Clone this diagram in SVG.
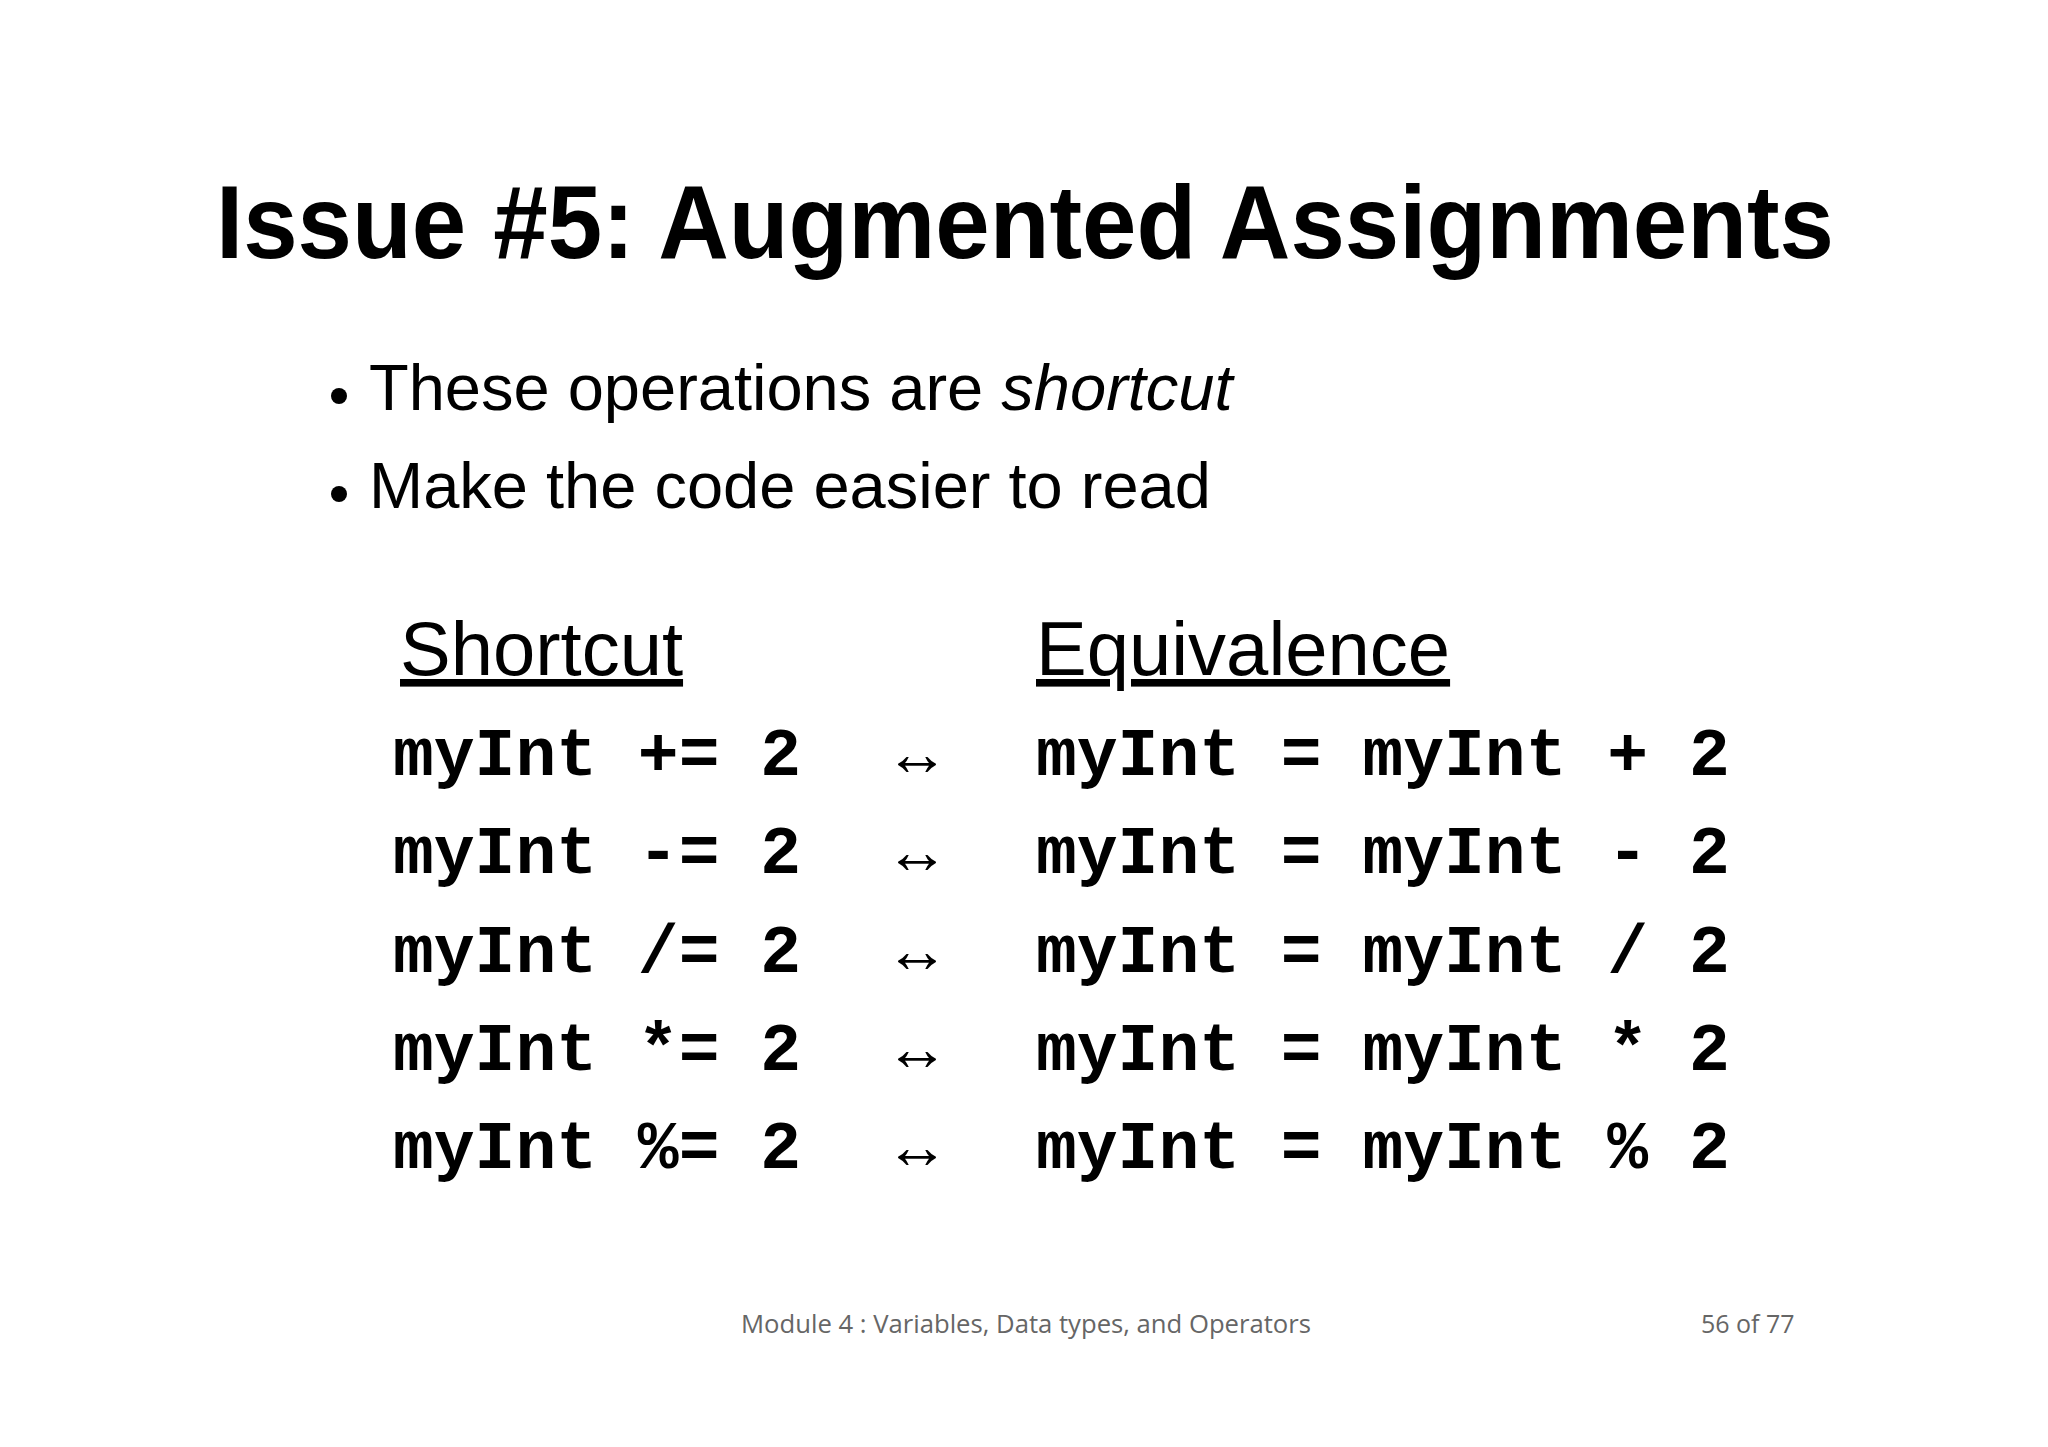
<svg xmlns="http://www.w3.org/2000/svg" width="2048" height="1447" viewBox="0 0 2048 1447">
<style>
.t{font-family:"Liberation Sans",Arial,sans-serif;fill:#000}
.c{font-family:"Liberation Mono","Courier New",monospace;font-weight:bold;font-size:68px;fill:#000}
.a{font-family:"Liberation Serif","DejaVu Serif",serif;font-size:64px;fill:#000}
.f{font-family:"Open Sans","Liberation Sans",sans-serif;font-size:25px;fill:#666}
</style>
<rect width="2048" height="1447" fill="#fff"/>
<g id="title"><text class="t" x="216" y="258" font-size="104" font-weight="bold" textLength="1618" lengthAdjust="spacingAndGlyphs">Issue #5: Augmented Assignments</text></g>
<g id="bullets">
<circle cx="339" cy="396" r="8"/>
<text class="t" x="369" y="410" font-size="65">These operations are <tspan font-style="italic">shortcut</tspan></text>
<circle cx="339" cy="494" r="8"/>
<text class="t" x="369" y="508" font-size="65">Make the code easier to read</text>
</g>
<g id="headings">
<text class="t" x="400" y="675" font-size="76" text-decoration="underline">Shortcut</text>
<text class="t" x="1036" y="675" font-size="76" text-decoration="underline">Equivalence</text>
</g>
<g id="rows">
<text class="c" x="393" y="775">myInt += 2</text><text class="a" x="885" y="775">↔</text><text class="c" x="1036" y="775">myInt = myInt + 2</text>
<text class="c" x="393" y="873">myInt -= 2</text><text class="a" x="885" y="873">↔</text><text class="c" x="1036" y="873">myInt = myInt - 2</text>
<text class="c" x="393" y="972">myInt /= 2</text><text class="a" x="885" y="972">↔</text><text class="c" x="1036" y="972">myInt = myInt / 2</text>
<text class="c" x="393" y="1070">myInt *= 2</text><text class="a" x="885" y="1070">↔</text><text class="c" x="1036" y="1070">myInt = myInt * 2</text>
<text class="c" x="393" y="1168">myInt %= 2</text><text class="a" x="885" y="1168">↔</text><text class="c" x="1036" y="1168">myInt = myInt % 2</text>
</g>
<g id="footer">
<text class="f" x="741" y="1333" textLength="570" lengthAdjust="spacingAndGlyphs">Module 4 : Variables, Data types, and Operators</text>
<text class="f" x="1701" y="1333">56 of 77</text>
</g>
</svg>
